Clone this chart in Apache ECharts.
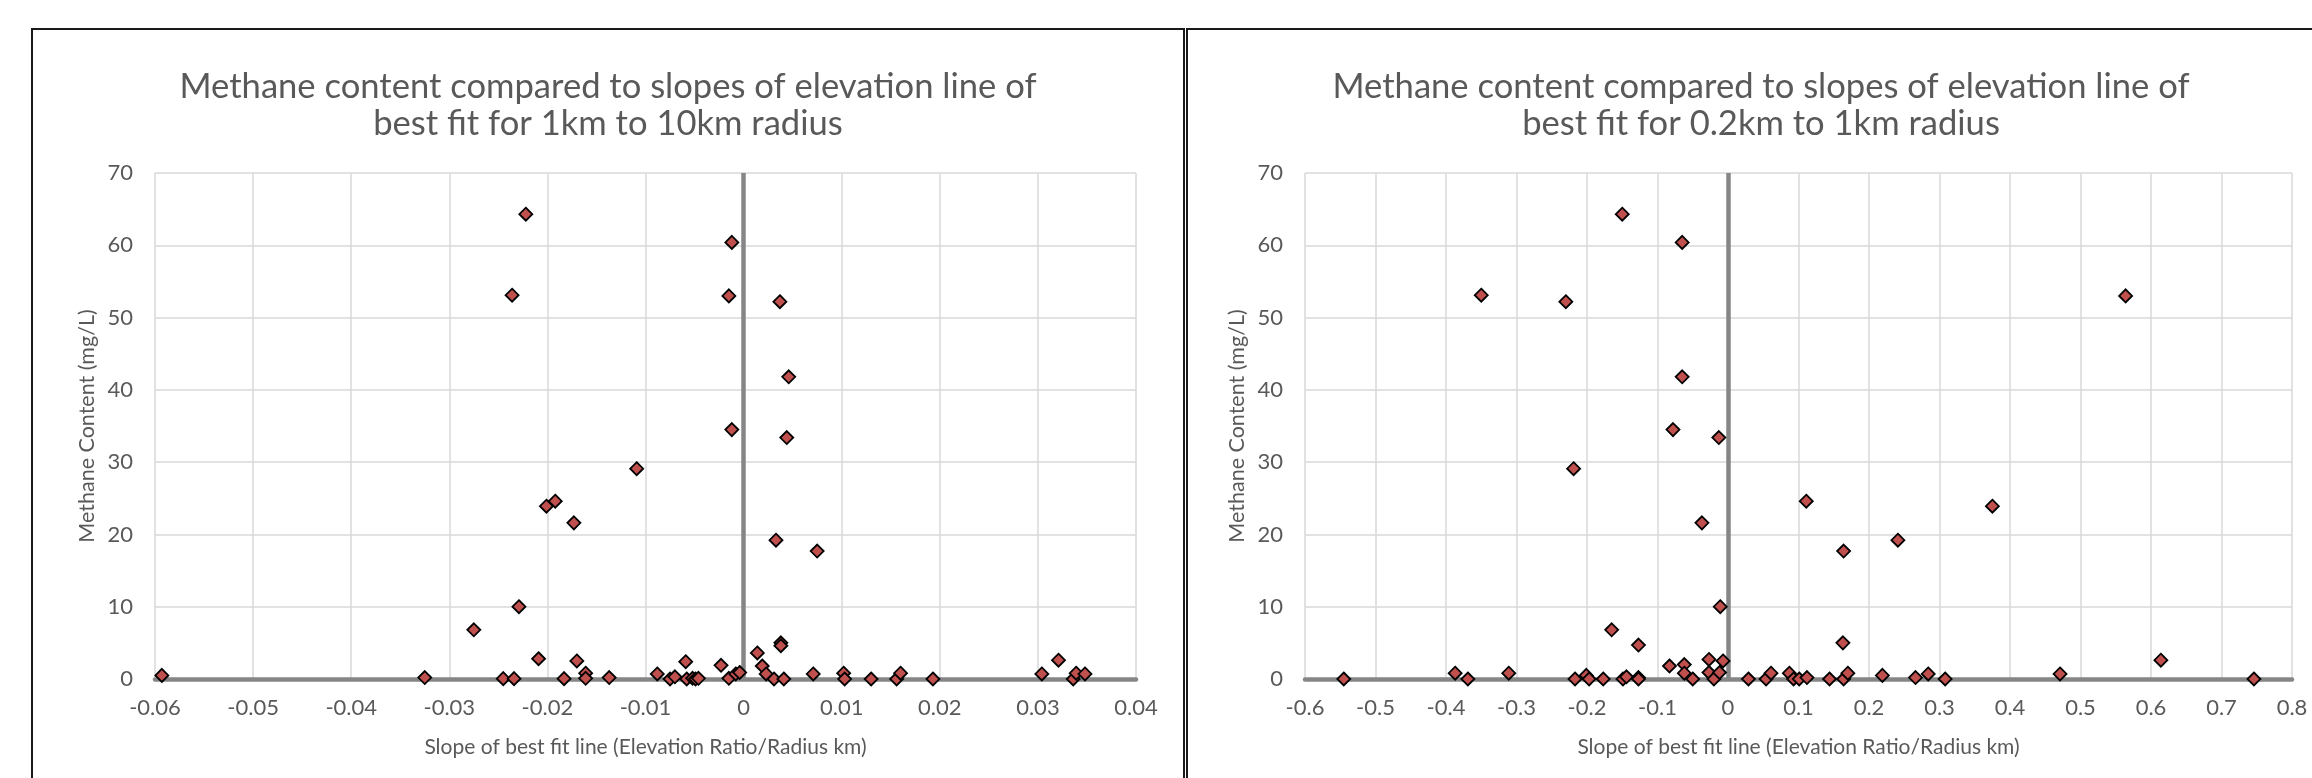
<!DOCTYPE html>
<html><head><meta charset="utf-8">
<script src="https://cdn.jsdelivr.net/npm/echarts@6/dist/echarts.min.js"></script>
<style>html,body{margin:0;padding:0;background:#fff}#c{width:2312px;height:778px}</style>
</head><body><div id="c"></div>
<script>
// ---- Data ----
const leftTitle = 'Methane content compared to slopes of elevation line of\nbest fit for 1km to 10km radius';
const rightTitle = 'Methane content compared to slopes of elevation line of\nbest fit for 0.2km to 1km radius';
const xAxisName = 'Slope of best fit line (Elevation Ratio/Radius km)';
const yAxisName = 'Methane Content (mg/L)';

// Chart 1: slope for 1km to 10km radius
const leftSlope = [-0.0593,-0.0325,-0.0275,-0.0245,-0.0236,-0.0234,-0.0229,-0.0222,-0.0209,-0.0201,
  -0.0192,-0.0183,-0.0173,-0.0170,-0.0161,-0.0161,-0.0137,-0.0109,-0.0088,-0.0075,
  -0.0070,-0.0059,-0.0058,-0.0052,-0.0049,-0.0046,-0.0023,-0.0015,-0.0015,-0.0012,
  -0.0012,-0.0008,-0.0004,0.0014,0.0019,0.0023,0.0031,0.0033,0.0037,0.0038,
  0.0038,0.0041,0.0044,0.0046,0.0071,0.0075,0.0102,0.0103,0.0130,0.0156,
  0.0160,0.0193,0.0304,0.0321,0.0336,0.0339,0.0348];
const leftMethane = [0.5,0.2,6.8,0.05,53.1,0.05,10.0,64.3,2.8,23.9,
  24.6,0.05,21.6,2.5,0.8,0.1,0.2,29.1,0.7,0.0,
  0.3,2.4,0.0,0.1,0.0,0.1,1.9,0.1,53.0,60.4,
  34.5,0.7,0.9,3.6,1.8,0.7,0.0,19.2,52.2,5.0,
  4.6,0.0,33.4,41.8,0.7,17.7,0.8,0.0,0.0,0.0,
  0.8,0.0,0.7,2.6,0.0,0.8,0.7];

// Chart 2: slope for 0.2km to 1km radius
const rightSlope = [-0.545,-0.387,-0.369,-0.350,-0.311,-0.230,-0.219,-0.217,-0.201,-0.197,
  -0.177,-0.165,-0.150,-0.149,-0.144,-0.127,-0.127,-0.127,-0.083,-0.078,
  -0.065,-0.065,-0.062,-0.062,-0.050,-0.037,-0.027,-0.027,-0.020,-0.013,
  -0.011,-0.012,-0.007,0.029,0.054,0.061,0.087,0.093,0.101,0.111,
  0.112,0.144,0.164,0.163,0.164,0.170,0.219,0.241,0.266,0.284,
  0.308,0.375,0.471,0.564,0.614,0.746];
const rightMethane = [0.0,0.8,0.0,53.1,0.8,52.2,29.1,0.0,0.5,0.0,
  0.0,6.8,64.3,0.0,0.3,4.7,0.2,0.0,1.8,34.5,
  60.4,41.8,2.0,0.8,0.0,21.6,2.7,0.9,0.0,33.4,
  10.0,0.9,2.5,0.0,0.0,0.8,0.8,0.0,0.0,24.6,
  0.2,0.0,17.7,5.0,0.0,0.8,0.5,19.2,0.2,0.7,
  0.0,23.9,0.7,53.0,2.6,0.0];

// Axis scales / tick labels
const leftXTicks = ['-0.06','-0.05','-0.04','-0.03','-0.02','-0.01','0','0.01','0.02','0.03','0.04'];
const rightXTicks = ['-0.6','-0.5','-0.4','-0.3','-0.2','-0.1','0','0.1','0.2','0.3','0.4','0.5','0.6','0.7','0.8'];
const yTicks = ['0','10','20','30','40','50','60','70'];

// ---- Chart ----
const FONT = 'Lato, "Open Sans", sans-serif';
const TXT = '#595959';
const zip = (xs, ys) => xs.map((x, i) => [x, ys[i]]);

function xAxisFor(idx, ticks, step, decimals) {
  return {
    type: 'value', gridIndex: idx,
    min: Number(ticks[0]), max: Number(ticks[ticks.length - 1]), interval: step,
    name: xAxisName, nameLocation: 'middle', nameGap: 58,
    nameTextStyle: { color: TXT, fontSize: 21, fontFamily: FONT },
    axisLine: { show: true, onZero: false, lineStyle: { color: '#868686', width: 4.5 } },
    axisTick: { show: false },
    axisLabel: { color: TXT, fontSize: 22, fontFamily: FONT, margin: 18,
      formatter: v => { const r = Number(v.toFixed(decimals)); return String(r === 0 ? 0 : r); } },
    splitLine: { show: true, lineStyle: { color: '#d9d9d9', width: 1.5 } }
  };
}
function yAxisFor(idx) {
  return {
    type: 'value', gridIndex: idx,
    min: Number(yTicks[0]), max: Number(yTicks[yTicks.length - 1]), interval: 10,
    name: yAxisName, nameLocation: 'middle', nameGap: 57, nameRotate: 90,
    nameTextStyle: { color: TXT, fontSize: 21.5, fontFamily: FONT },
    axisLine: { show: false }, axisTick: { show: false },
    axisLabel: { color: TXT, fontSize: 22, fontFamily: FONT, margin: 22 },
    splitLine: { show: true, lineStyle: { color: '#d9d9d9', width: 1.5 } }
  };
}
function zeroLine(idx) {
  return {
    type: 'scatter', xAxisIndex: idx, yAxisIndex: idx, data: [], z: 2, silent: true,
    markLine: { silent: true, symbol: 'none', animation: false,
      label: { show: false },
      lineStyle: { color: '#868686', width: 4.5, type: 'solid' },
      data: [{ xAxis: 0 }] }
  };
}
function points(idx, xs, ys) {
  return {
    type: 'scatter', xAxisIndex: idx, yAxisIndex: idx, z: 5,
    data: zip(xs, ys), symbol: 'diamond', symbolSize: 13,
    itemStyle: { color: '#c0504d', borderColor: '#000', borderWidth: 1.8, opacity: 1 }
  };
}

const chart = echarts.init(document.getElementById('c'), null, { renderer: 'canvas' });
chart.setOption({
  animation: false,
  backgroundColor: '#fff',
  title: [
    { text: leftTitle, left: 608, top: 68, textAlign: 'center', padding: 0,
      textStyle: { color: TXT, fontSize: 34.6, fontWeight: 'normal', fontFamily: FONT, lineHeight: 37 } },
    { text: rightTitle, left: 1761, top: 68, textAlign: 'center', padding: 0,
      textStyle: { color: TXT, fontSize: 34.6, fontWeight: 'normal', fontFamily: FONT, lineHeight: 37 } }
  ],
  grid: [
    { left: 155, right: 1176, top: 173, bottom: 99, containLabel: false },
    { left: 1305, right: 20, top: 173, bottom: 99, containLabel: false }
  ],
  xAxis: [xAxisFor(0, leftXTicks, 0.01, 2), xAxisFor(1, rightXTicks, 0.1, 1)],
  yAxis: [yAxisFor(0), yAxisFor(1)],
  series: [zeroLine(0), zeroLine(1), points(0, leftSlope, leftMethane), points(1, rightSlope, rightMethane)],
  graphic: [
    { type: 'rect', shape: { x: 32, y: 29, width: 1152, height: 800 }, style: { fill: 'none', stroke: '#1a1a1a', lineWidth: 2 }, silent: true },
    { type: 'rect', shape: { x: 1187, y: 29, width: 1200, height: 800 }, style: { fill: 'none', stroke: '#1a1a1a', lineWidth: 2 }, silent: true }
  ]
});
</script></body></html>
